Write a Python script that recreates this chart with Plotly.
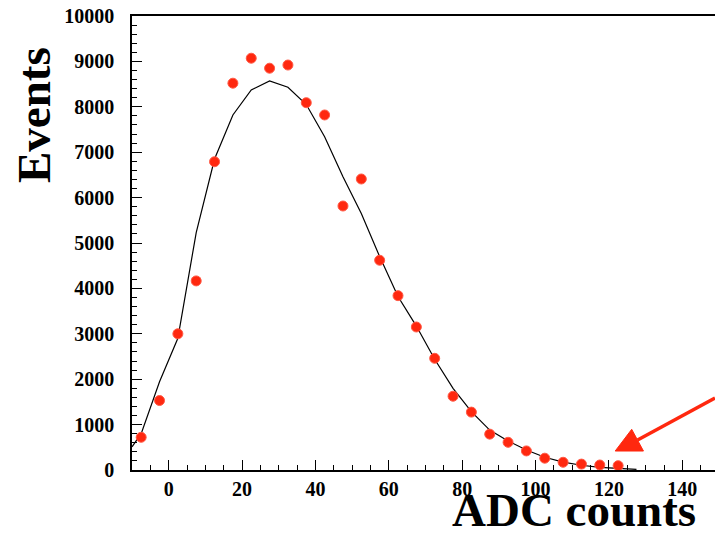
import plotly.graph_objects as go

# Measured spectrum: bin centres (ADC counts) and event counts
bin_centers = [-7.5, -2.5, 2.5, 7.5, 12.5, 17.5, 22.5, 27.5, 32.5, 37.5,
               42.5, 47.5, 52.5, 57.5, 62.5, 67.5, 72.5, 77.5, 82.5, 87.5,
               92.5, 97.5, 102.5, 107.5, 112.5, 117.5, 122.5]
events = [720, 1530, 3000, 4165, 6790, 8520, 9070, 8850, 8920, 8090,
          7820, 5815, 6410, 4620, 3840, 3150, 2460, 1625, 1275, 790,
          610, 420, 260, 170, 130, 110, 95]

# Fitted model evaluated along the axis
fit_x = [-10, -7.5, -2.5, 2.5, 7.5, 12.5, 17.5, 22.5, 27.5, 32.5, 37.5,
         42.5, 47.5, 52.5, 57.5, 62.5, 67.5, 72.5, 77.5, 82.5, 87.5,
         92.5, 97.5, 102.5, 107.5, 112.5, 117.5, 122.5, 127.5]
fit_y = [510, 800, 1945, 2900, 5230, 6850, 7820, 8370, 8570, 8430, 8050,
         7340, 6460, 5650, 4700, 3820, 3170, 2440, 1800, 1285, 880,
         640, 440, 280, 175, 105, 60, 35, 15]

# Arrow marking the high-ADC tail (data coordinates)
arrow_tail = (148.9, 1586)
arrow_base = (127.8, 661)
arrow_head = [(121.7, 418), (126.2, 896), (129.4, 418)]

RED = "rgb(255,40,15)"
SERIF = "Liberation Serif"

fig = go.Figure()
fig.add_trace(go.Scatter(
    x=fit_x, y=fit_y, mode="lines",
    line=dict(color="black", width=1.2),
    showlegend=False,
))
fig.add_trace(go.Scatter(
    x=bin_centers, y=events, mode="markers",
    marker=dict(color=RED, size=10, line=dict(color="rgb(255,90,70)", width=1)),
    showlegend=False,
))

head_path = "M {} {} L {} {} L {} {} Z".format(
    arrow_head[0][0], arrow_head[0][1],
    arrow_head[1][0], arrow_head[1][1],
    arrow_head[2][0], arrow_head[2][1],
)
fig.add_shape(type="line", xref="x", yref="y",
              x0=arrow_tail[0], y0=arrow_tail[1],
              x1=arrow_base[0], y1=arrow_base[1],
              line=dict(color=RED, width=3.5))
fig.add_shape(type="path", xref="x", yref="y", path=head_path,
              fillcolor=RED, line=dict(color=RED, width=1))

tick_font = dict(family=SERIF, size=20, color="black", weight="bold")

fig.update_xaxes(
    range=[-10, 148.9], tick0=0, dtick=20,
    ticks="inside", ticklen=10, tickwidth=1.3, tickcolor="black",
    showline=True, linecolor="black", linewidth=1.5, mirror=True,
    showgrid=False, zeroline=False, tickfont=tick_font,
    minor=dict(tick0=0, dtick=5, ticks="inside", ticklen=5,
               tickwidth=1, tickcolor="black", showgrid=False),
)
fig.update_yaxes(
    range=[0, 10000], tick0=0, dtick=1000, tickformat="d",
    ticks="inside", ticklen=10, tickwidth=1.3, tickcolor="black",
    showline=True, linecolor="black", linewidth=1.5,
    showgrid=False, zeroline=False, tickfont=tick_font,
    ticklabelstandoff=12,
    minor=dict(tick0=0, dtick=200, ticks="inside", ticklen=5,
               tickwidth=1, tickcolor="black", showgrid=False),
)

title_font = dict(family=SERIF, size=47, color="black", weight="bold")
fig.add_annotation(text="Events", xref="paper", yref="paper",
                   x=-0.168, y=0.782, textangle=-90, showarrow=False,
                   xanchor="center", yanchor="middle", font=title_font)
fig.add_annotation(text="ADC counts", xref="paper", yref="paper",
                   x=0.758, y=-0.089, showarrow=False,
                   xanchor="center", yanchor="middle", font=title_font)

fig.update_layout(
    width=715, height=536,
    margin=dict(l=132, r=0, t=16, b=66),
    paper_bgcolor="white", plot_bgcolor="white",
)

fig.write_html("out.html")
